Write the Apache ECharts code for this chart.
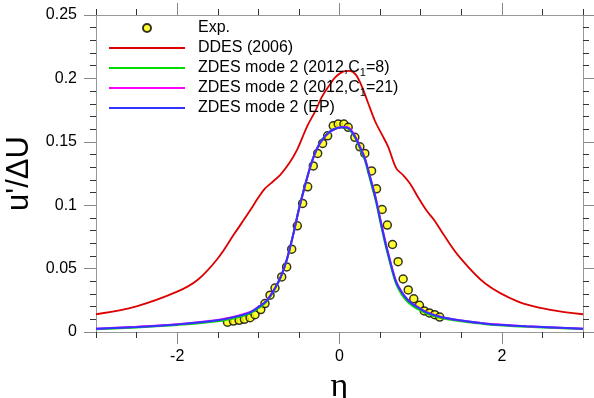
<!DOCTYPE html>
<html>
<head>
<meta charset="utf-8">
<script src="https://cdn.jsdelivr.net/npm/echarts@6/dist/echarts.min.js"></script>
<style>html,body{margin:0;padding:0;background:#fff}#c{width:594px;height:398px}</style>
</head>
<body>
<div id="c"></div>
<script>
// ---- data ----
var xTickLabels = [-2, 0, 2];
var xMinorTicks = [-3, -2.5, -1.5, -1, -0.5, 0.5, 1, 1.5, 2.5, 3];
var seriesNames = ['Exp.', 'DDES (2006)', 'ZDES mode 2 (2012,C1=8)', 'ZDES mode 2 (2012,C1=21)', 'ZDES mode 2 (EP)'];

var expEta = [-1.38,-1.307,-1.237,-1.172,-1.102,-1.041,-0.970,-0.918,-0.856,-0.795,-0.712,-0.651,-0.589,-0.520,-0.454,-0.392,-0.323,-0.269,-0.208,-0.146,-0.077,-0.016,0.054,0.107,0.189,0.251,0.312,0.395,0.456,0.525,0.589,0.653,0.722,0.784,0.847,0.915,0.985,1.044,1.108,1.173,1.235];
var expU   = [0.0077,0.0086,0.0092,0.0100,0.0113,0.0137,0.0177,0.0224,0.0290,0.0347,0.0434,0.0513,0.0653,0.0837,0.1014,0.1145,0.1310,0.1408,0.1487,0.1547,0.1626,0.1640,0.1640,0.1614,0.1535,0.1460,0.1408,0.1270,0.1129,0.0966,0.0843,0.0690,0.0555,0.0418,0.0332,0.0262,0.0210,0.0166,0.0150,0.0137,0.0118];

var ddesEta = [-3.0,-2.5,-2.0,-1.75,-1.5,-1.3,-1.1,-1.0,-0.92,-0.85,-0.73,-0.62,-0.52,-0.40,-0.30,-0.22,-0.12,-0.05,0.05,0.12,0.20,0.28,0.35,0.44,0.52,0.60,0.70,0.78,0.87,0.97,1.07,1.17,1.28,1.48,1.8,2.2,2.6,3.0];
var ddesU   = [0.0140,0.0203,0.0318,0.0410,0.0580,0.0770,0.0960,0.1060,0.1130,0.1170,0.1240,0.1330,0.1440,0.1620,0.1740,0.1850,0.1950,0.2010,0.2055,0.2060,0.2030,0.1930,0.1810,0.1660,0.1560,0.1460,0.1290,0.1240,0.1170,0.1060,0.0960,0.0880,0.0770,0.0590,0.0380,0.0240,0.0175,0.0140];

var zdesEta = [-3.0,-2.5,-2.0,-1.5,-1.25,-1.1,-1.0,-0.9,-0.8,-0.72,-0.65,-0.57,-0.50,-0.44,-0.38,-0.32,-0.25,-0.17,-0.08,0.03,0.10,0.19,0.27,0.31,0.38,0.45,0.50,0.54,0.58,0.62,0.66,0.70,0.76,0.83,0.90,0.99,1.07,1.25,1.5,1.8,2.3,3.0];
var zdesC8U  = [0.0022,0.0036,0.0055,0.0085,0.0117,0.0147,0.0187,0.0238,0.0335,0.0437,0.0568,0.0770,0.0972,0.1122,0.1262,0.1382,0.1482,0.1552,0.1597,0.1615,0.1608,0.1535,0.1422,0.1360,0.1195,0.1025,0.0875,0.0760,0.0650,0.0550,0.0455,0.0375,0.0302,0.0243,0.0205,0.0172,0.0145,0.0110,0.0084,0.0062,0.0042,0.0023];
var zdesC21U = [0.0026,0.0042,0.0062,0.0095,0.0128,0.0158,0.0197,0.0246,0.0341,0.0440,0.0568,0.0767,0.0966,0.1116,0.1256,0.1377,0.1478,0.1549,0.1595,0.1617,0.1614,0.1546,0.1438,0.1378,0.1218,0.1048,0.0898,0.0782,0.0672,0.0572,0.0476,0.0395,0.0324,0.0263,0.0222,0.0187,0.0157,0.0119,0.0091,0.0067,0.0046,0.0026];
var zdesEPU  = [0.0025,0.0040,0.0060,0.0092,0.0125,0.0155,0.0195,0.0245,0.0340,0.0440,0.0570,0.0770,0.0970,0.1120,0.1260,0.1380,0.1480,0.1550,0.1595,0.1615,0.1610,0.1540,0.1430,0.1370,0.1210,0.1040,0.0890,0.0775,0.0665,0.0566,0.0470,0.0390,0.0320,0.0260,0.0220,0.0185,0.0155,0.0118,0.0090,0.0066,0.0045,0.0025];

function zip(a, b) { return a.map(function (v, i) { return [v, b[i]]; }); }

var FONT = 'Liberation Sans';
var AXLINE = { show: true, onZero: false, lineStyle: { color: '#999', width: 1 } };
var NOLINE = { show: false, onZero: false };

function xAx(pos, major, withLabel) {
  var ax = {
    type: 'value', min: -3, max: 3, position: pos, gridIndex: 0,
    splitLine: { show: false },
    axisLine: major ? AXLINE : NOLINE,
    axisTick: major ? { show: true, customValues: xTickLabels, length: 12, lineStyle: { color: '#888', width: 1 } }
                    : { show: true, customValues: xMinorTicks, length: 6, lineStyle: { color: '#333', width: 1 } },
    axisLabel: withLabel ? { show: true, customValues: xTickLabels, fontSize: 16, fontFamily: FONT, color: '#000', margin: 17 } : { show: false }
  };
  if (withLabel) {
    ax.name = 'η';
    ax.nameLocation = 'middle';
    ax.nameGap = 28;
    ax.nameTextStyle = { fontSize: 34, fontFamily: 'Liberation Serif', color: '#000' };
  }
  return ax;
}
function yAx(pos, withLabel) {
  var ax = {
    type: 'value', min: 0, max: 0.25, interval: 0.05, position: pos, gridIndex: 0,
    splitLine: { show: false },
    axisLine: AXLINE,
    axisTick: { show: true, length: 12, lineStyle: { color: '#888', width: 1 } },
    minorTick: { show: true, splitNumber: 5, length: 6, lineStyle: { color: '#333', width: 1 } },
    minorSplitLine: { show: false },
    axisLabel: withLabel ? { show: true, fontSize: 16, fontFamily: FONT, color: '#000', margin: 19 } : { show: false }
  };
  if (withLabel) {
    ax.name = "u'/ΔU";
    ax.nameLocation = 'middle';
    ax.nameGap = 46;
    ax.nameTextStyle = { fontSize: 31, fontFamily: FONT, color: '#000' };
  }
  return ax;
}

var lineItem = function (name) {
  return { name: name, itemStyle: { color: 'rgba(0,0,0,0)', borderColor: 'rgba(0,0,0,0)', borderWidth: 0 } };
};

var chart = echarts.init(document.getElementById('c'), null, { renderer: 'canvas' });
chart.setOption({
  animation: false,
  backgroundColor: '#fff',
  grid: { left: 96, right: 11, top: 15, bottom: 66, containLabel: false, outerBoundsMode: 'none' },
  xAxis: [xAx('bottom', true, true), xAx('bottom', false, false), xAx('top', true, false), xAx('top', false, false)],
  yAxis: [yAx('left', true), yAx('right', false)],
  legend: {
    orient: 'vertical', left: 108, top: 18, padding: 0,
    itemWidth: 76, itemHeight: 8, itemGap: 0,
    data: [{ name: seriesNames[0] }, lineItem(seriesNames[1]), lineItem(seriesNames[2]), lineItem(seriesNames[3]), lineItem(seriesNames[4])],
    formatter: function (name) { return name.replace('C1=', 'C{sub|1}='); },
    textStyle: {
      fontSize: 16, fontFamily: FONT, color: '#000', lineHeight: 20, padding: [0, 0, 0, 8],
      rich: { sub: { fontSize: 11, fontFamily: FONT, color: '#000', lineHeight: 11, verticalAlign: 'bottom' } }
    }
  },
  series: [
    { name: seriesNames[0], type: 'scatter', data: zip(expEta, expU), symbol: 'circle', symbolSize: 8, z: 1,
      itemStyle: { color: '#ffff00', borderColor: '#000', borderWidth: 1.5 } },
    { name: seriesNames[1], type: 'line', data: zip(ddesEta, ddesU), showSymbol: false, symbol: 'none', smooth: 0.35, z: 2,
      lineStyle: { color: '#dd0000', width: 1.8 }, itemStyle: { color: '#dd0000' } },
    { name: seriesNames[2], type: 'line', data: zip(zdesEta, zdesC8U), showSymbol: false, symbol: 'none', smooth: 0.35, z: 3,
      lineStyle: { color: '#00dd00', width: 2 }, itemStyle: { color: '#00dd00' } },
    { name: seriesNames[3], type: 'line', data: zip(zdesEta, zdesC21U), showSymbol: false, symbol: 'none', smooth: 0.35, z: 4,
      lineStyle: { color: '#ff00ff', width: 2 }, itemStyle: { color: '#ff00ff' } },
    { name: seriesNames[4], type: 'line', data: zip(zdesEta, zdesEPU), showSymbol: false, symbol: 'none', smooth: 0.35, z: 5,
      lineStyle: { color: '#3333ff', width: 2 }, itemStyle: { color: '#3333ff' } }
  ]
});
</script>
</body>
</html>
